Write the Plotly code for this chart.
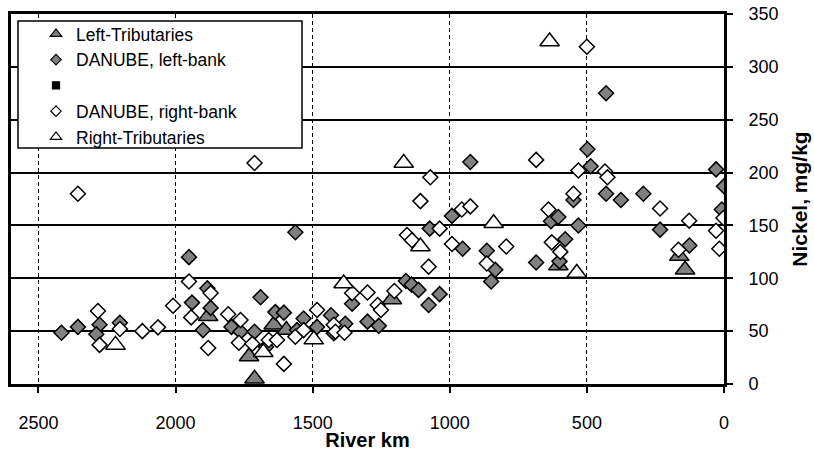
import plotly.graph_objects as go

# River km / nickel (mg/kg) pairs per sampling group
left_trib_km = [1881, 1732, 1712, 1642, 1596, 1211, 604, 163, 142]
left_trib_ni = [64, 26, 5, 56, 51, 80, 112, 121, 108]

right_trib_km = [2219, 1680, 1496, 1387, 1168, 1107, 840, 636, 537]
right_trib_ni = [37, 30, 42, 95, 209, 130, 152, 324, 105]

left_bank_km = [2416, 2356, 2277, 2289, 2203, 1951, 1940, 1884, 1872, 1900,
                1796, 1763, 1712, 1690, 1670, 1636, 1605, 1563, 1557, 1533,
                1484, 1433, 1423, 1381, 1356, 1300, 1259, 1160, 1139, 1114,
                1077, 1073, 1037, 992, 953, 925, 865, 849, 834, 685,
                631, 604, 600, 579, 549, 531, 498, 486, 430, 430,
                376, 294, 233, 126, 29, 0, 8]
left_bank_ni = [48.5, 54, 56, 47, 58, 120, 77, 90.5, 72, 51,
                54, 49.5, 49.5, 82, 35, 68, 67.5, 143.5, 51, 62,
                54, 65, 48, 57, 76, 59, 55, 97.5, 94, 89,
                74.7, 147, 85, 159, 128, 210, 126, 97, 108, 115,
                154, 158, 116, 137, 174, 150, 222, 206, 275, 180,
                174, 180, 146, 131, 203, 187, 165]

right_bank_km = [2356, 2283, 2277, 2203, 2121, 2064, 2009, 1951, 1943, 1872,
                 1881, 1808, 1763, 1769, 1720, 1712, 1660, 1630, 1605, 1563,
                 1533, 1484, 1423, 1417, 1384, 1356, 1300, 1263, 1251, 1202,
                 1156, 1138, 1107, 1077, 1071, 1037, 992, 956, 925, 865,
                 794, 685, 640, 628, 597, 549, 531, 500, 434, 425,
                 233, 166, 127, 29, 17, 2]
right_bank_ni = [180, 69, 37, 52, 50, 53.6, 74, 97, 63, 86,
                 34, 66, 60.5, 39, 38, 209, 41.6, 41.6, 19, 44.7,
                 51, 70, 56, 49.5, 48.5, 86, 86.5, 74.7, 70, 88,
                 141, 136, 173, 111, 195.5, 147, 132.5, 165, 168, 114,
                 130, 212, 165, 134, 125, 180, 202, 319, 201, 195.5,
                 166, 127, 154.5, 145, 128, 157]

x_ticks = [0, 500, 1000, 1500, 2000, 2500]
y_ticks = [0, 50, 100, 150, 200, 250, 300, 350]

FONT = "Liberation Sans, Arial, sans-serif"
GRAY = "#808080"
outline = dict(color="black", width=1.5)

fig = go.Figure()

# data series (legend entries are drawn by the small-marker traces below)
fig.add_trace(go.Scatter(x=left_trib_km, y=left_trib_ni, mode="markers", showlegend=False,
                         name="Left-Tributaries",
                         marker=dict(symbol="triangle-up", size=17, color=GRAY, line=outline)))
fig.add_trace(go.Scatter(x=left_bank_km, y=left_bank_ni, mode="markers", showlegend=False,
                         name="DANUBE, left-bank",
                         marker=dict(symbol="diamond", size=11.5, color=GRAY, line=outline)))
fig.add_trace(go.Scatter(x=right_bank_km, y=right_bank_ni, mode="markers", showlegend=False,
                         name="DANUBE, right-bank",
                         marker=dict(symbol="diamond", size=11.5, color="white", line=outline)))
fig.add_trace(go.Scatter(x=right_trib_km, y=right_trib_ni, mode="markers", showlegend=False,
                         name="Right-Tributaries",
                         marker=dict(symbol="triangle-up", size=17, color="white", line=outline)))

# legend entries
legend_items = [
    ("Left-Tributaries", "triangle-up", GRAY, 10),
    ("DANUBE, left-bank", "diamond", GRAY, 8),
    ("", "square", "black", 7),
    ("DANUBE, right-bank", "diamond", "white", 8),
    ("Right-Tributaries", "triangle-up", "white", 10),
]
for name, sym, col, sz in legend_items:
    fig.add_trace(go.Scatter(x=[None], y=[None], mode="markers", name=name,
                             marker=dict(symbol=sym, size=sz, color=col,
                                         line=dict(color="black", width=1.2))))

W, H = 814, 451
L, R, T, B = 11, 90, 14, 67
pw, ph = W - L - R, H - T - B


def px_x(p):
    return (p - L) / pw


def px_y(p):
    return (H - B - p) / ph


# legend frame
fig.add_shape(type="rect", xref="paper", yref="paper",
              x0=px_x(18), x1=px_x(302), y0=px_y(148), y1=px_y(21),
              line=dict(color="black", width=1.5), fillcolor="white", layer="above")

fig.update_layout(
    width=W, height=H,
    margin=dict(l=L, r=R, t=T, b=B, autoexpand=False),
    paper_bgcolor="white", plot_bgcolor="white",
    font=dict(family=FONT, color="black", size=18),
    showlegend=True,
    legend=dict(x=px_x(36), y=px_y(16), xanchor="left", yanchor="top",
                bgcolor="rgba(0,0,0,0)", borderwidth=0,
                font=dict(family=FONT, size=17.5, color="black"),
                tracegroupgap=0, traceorder="normal"),
    xaxis=dict(range=[2600, 0], tickvals=x_ticks, showgrid=True, gridcolor="black",
               gridwidth=1, griddash="4px,3px", zeroline=False, automargin=False,
               showline=True, linecolor="black", linewidth=3, mirror=True,
               ticks="outside", ticklen=6, tickwidth=1.5, tickcolor="black",
               ticklabelstandoff=14,
               tickfont=dict(size=18),
               title=dict(text="<b>River km</b>", font=dict(size=20))),
    yaxis=dict(range=[0, 350], tickvals=y_ticks, side="right", showgrid=True,
               gridcolor="black", gridwidth=1.5, zeroline=False, automargin=False,
               showline=True, linecolor="black", linewidth=3, mirror=True,
               ticks="outside", ticklen=6, tickwidth=1.5, tickcolor="black",
               ticklabelstandoff=12,
               tickfont=dict(size=18),
               title=dict(text="<b>Nickel, mg/kg</b>", font=dict(size=21))),
)

fig.write_html("out.html")
